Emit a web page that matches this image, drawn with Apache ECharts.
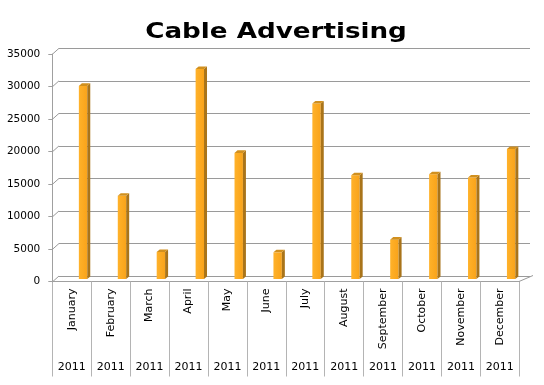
<!DOCTYPE html>
<html>
<head>
<meta charset="utf-8">
<script src="https://cdn.jsdelivr.net/npm/echarts@6/dist/echarts.min.js"></script>
<style>html,body{margin:0;padding:0;background:#fff;}#c{width:544px;height:385px;}</style>
</head>
<body>
<div id="c"></div>
<script>
var titleText = 'Cable Advertising';
var months = ['January','February','March','April','May','June','July','August','September','October','November','December'];
var years = ['2011','2011','2011','2011','2011','2011','2011','2011','2011','2011','2011','2011'];
var values = [29700, 12800, 4150, 32300, 19400, 4100, 27000, 15950, 6050, 16100, 15600, 20000];
var yTicks = [0, 5000, 10000, 15000, 20000, 25000, 30000, 35000];

var FONT = 'DejaVu Sans';
var chart = echarts.init(document.getElementById('c'));

var option = {
  backgroundColor: '#ffffff',
  animation: false,
  graphic: [{
    type: 'text', x: 276, y: 32, scaleX: 1.19, scaleY: 1, silent: true,
    style: { text: titleText, textAlign: 'center', textVerticalAlign: 'middle',
      font: 'bold 22px "DejaVu Sans"', fill: '#000' }
  }],
  grid: [
    { left: 59, right: 14, top: 48.3, bottom: 109, containLabel: false },
    { left: 52.3, right: 24.7, top: 54, bottom: 103.5, containLabel: false }
  ],
  xAxis: [
    { gridIndex: 0, type: 'category', data: months, show: false },
    { gridIndex: 1, type: 'category', data: months, position: 'bottom',
      axisLine: { show: true, lineStyle: { color: '#a0a0a0', width: 1 } },
      axisTick: { show: true, length: 95, lineStyle: { color: '#b4b4b4', width: 1 } },
      axisLabel: { rotate: 90, margin: 7, fontFamily: FONT, fontSize: 11, color: '#000' },
      splitLine: { show: false }
    },
    { gridIndex: 1, type: 'category', data: years, position: 'bottom',
      axisLine: { show: false }, axisTick: { show: false },
      axisLabel: { margin: 80, fontFamily: FONT, fontSize: 11, color: '#000' },
      splitLine: { show: false }
    }
  ],
  yAxis: [
    { gridIndex: 0, type: 'value', min: 0, max: 35000, interval: 5000,
      axisLine: { show: false }, axisTick: { show: false }, axisLabel: { show: false },
      splitLine: { show: true, lineStyle: { color: '#9a9a9a', width: 1 } }
    },
    { gridIndex: 1, type: 'value', min: 0, max: 35000, interval: 5000,
      axisLine: { show: true, lineStyle: { color: '#a0a0a0', width: 1 } },
      axisTick: { show: true, length: 4, lineStyle: { color: '#a0a0a0' } },
      axisLabel: { margin: 12, fontFamily: FONT, fontSize: 10.5, color: '#000',
        formatter: function (v) { return String(v); } },
      splitLine: { show: false }
    }
  ],
  series: [
    {
      type: 'custom', xAxisIndex: 0, yAxisIndex: 0, silent: true,
      data: yTicks.map(function (v) { return [0, v]; }),
      renderItem: function (params, api) {
        var v = api.value(1);
        var back = api.coord([0, v]);
        var bx = params.coordSys.x;
        var by = back[1];
        var children = [{
          type: 'line',
          shape: { x1: bx - 6.7, y1: by + 6, x2: bx, y2: by },
          style: { stroke: '#9a9a9a', lineWidth: 1 }
        }];
        if (v === 0) {
          var rx = params.coordSys.x + params.coordSys.width;
          children.push({
            type: 'line',
            shape: { x1: rx - 11, y1: by + 5.5, x2: rx + 3, y2: by - 0.5 },
            style: { stroke: '#9a9a9a', lineWidth: 1 }
          });
        }
        return { type: 'group', children: children };
      },
      z: 1
    },
    {
      type: 'custom', xAxisIndex: 1, yAxisIndex: 1, silent: true,
      data: values.map(function (v, i) { return [i, v]; }),
      renderItem: function (params, api) {
        var i = api.value(0), v = api.value(1);
        var base = api.coord([i, 0]);
        var top = api.coord([i, v]);
        var dx = 3.3, dy = -2.5;
        var x0 = base[0] + dx + 3.8, w = 8.4, sd = 3, td = 2.6;
        var yb = base[1] + dy, yt = top[1] + dy;
        return { type: 'group', children: [
          { type: 'rect', shape: { x: x0, y: yt, width: w, height: yb - yt },
            style: { fill: new echarts.graphic.LinearGradient(0, 0, 1, 0, [
              { offset: 0, color: '#FFB22A' }, { offset: 1, color: '#F9A31A' }]) } },
          { type: 'polygon', shape: { points: [[x0 + w, yt], [x0 + w + sd, yt - td], [x0 + w + sd, yb - td], [x0 + w, yb]] },
            style: { fill: '#A9741A' } },
          { type: 'polygon', shape: { points: [[x0, yt], [x0 + w, yt], [x0 + w + sd, yt - td], [x0 + sd, yt - td]] },
            style: { fill: '#D1901E' } }
        ] };
      },
      z: 5
    }
  ]
};
chart.setOption(option);
</script>
</body>
</html>
